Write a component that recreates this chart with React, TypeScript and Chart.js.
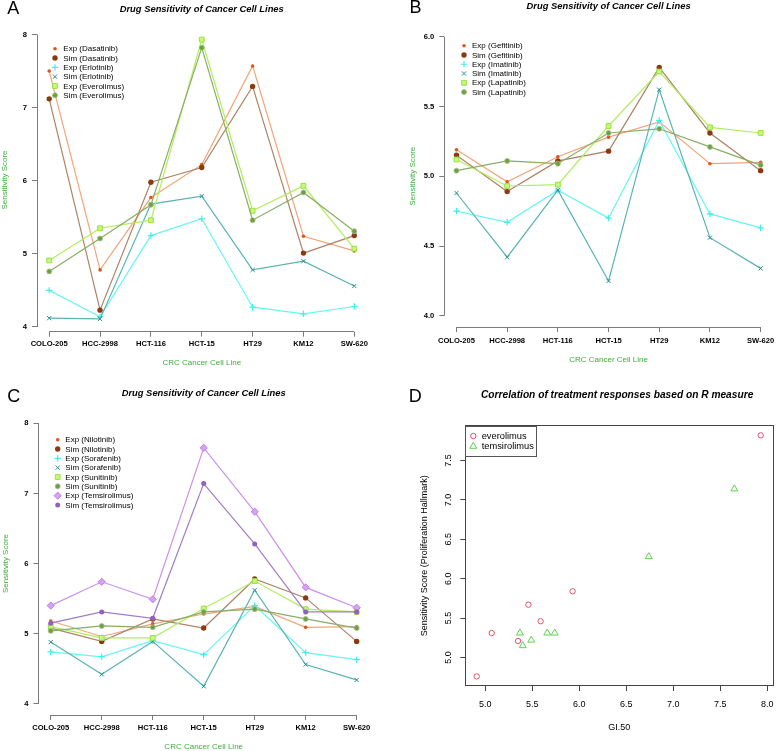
import React, { useEffect, useRef } from 'react';
import { Chart, registerables } from 'chart.js';

Chart.register(...registerables);

// ---------------- DATA ----------------
const cellLines = ['COLO-205', 'HCC-2998', 'HCT-116', 'HCT-15', 'HT29', 'KM12', 'SW-620'];
const cellPositions = [1, 2, 3, 4, 5, 6, 7];

// Panel A
const expDasatinib = [7.5, 4.78, 5.77, 6.22, 7.57, 5.24, 5.04];
const simDasatinib = [7.12, 4.23, 5.98, 6.18, 7.29, 5.01, 5.25];
const expErlotinib = [4.5, 4.14, 5.25, 5.48, 4.27, 4.18, 4.28];
const simErlotinib = [4.12, 4.11, 5.68, 5.79, 4.78, 4.9, 4.56];
const expEverolimus = [4.91, 5.35, 5.46, 7.93, 5.59, 5.93, 5.07];
const simEverolimus = [4.76, 5.21, 5.67, 7.82, 5.46, 5.84, 5.31];

// Panel B
const expGefitinib = [5.19, 4.96, 5.14, 5.28, 5.39, 5.09, 5.1];
const simGefitinib = [5.15, 4.89, 5.11, 5.18, 5.78, 5.31, 5.04];
const expImatinib = [4.75, 4.67, 4.9, 4.7, 5.4, 4.73, 4.63];
const simImatinib = [4.88, 4.42, 4.9, 4.25, 5.62, 4.56, 4.34];
const expLapatinib = [5.12, 4.93, 4.94, 5.36, 5.75, 5.35, 5.31];
const simLapatinib = [5.04, 5.11, 5.09, 5.31, 5.34, 5.21, 5.08];

// Panel C
const expNilotinib = [5.18, 4.96, 5.14, 5.28, 5.39, 5.09, 5.1];
const simNilotinib = [5.08, 4.89, 5.21, 5.08, 5.78, 5.51, 4.89];
const expSorafenib = [4.74, 4.67, 4.9, 4.7, 5.4, 4.73, 4.63];
const simSorafenib = [4.88, 4.42, 4.89, 4.25, 5.62, 4.56, 4.34];
const expSunitinib = [5.1, 4.94, 4.94, 5.36, 5.75, 5.35, 5.31];
const simSunitinib = [5.04, 5.11, 5.09, 5.31, 5.35, 5.21, 5.08];
const expTemsirolimus = [5.4, 5.74, 5.49, 7.65, 6.74, 5.66, 5.37];
const simTemsirolimus = [5.15, 5.31, 5.22, 7.14, 6.28, 5.31, 5.31];

// Tick values
const yTicksA = [4, 5, 6, 7, 8];
const yTicksB = [4.0, 4.5, 5.0, 5.5, 6.0];
const yTicksC = [4, 5, 6, 7, 8];
const xTicksD = [5.0, 5.5, 6.0, 6.5, 7.0, 7.5, 8.0];
const yTicksD = [5.0, 5.5, 6.0, 6.5, 7.0, 7.5];

// ---------------- STYLES ----------------
const FONT = "'Liberation Sans', Arial, Helvetica, sans-serif";
const AXIS = '#7a7a7a';
const GREEN = '#3CAE3C';

type Kind = { line: string; shape: string; r: number; fill: string; stroke: string; bw: number };
const kinds: Kind[] = [
  { line: '#F0A57A', shape: 'circle', r: 1.8, fill: '#E2531A', stroke: '#E2531A', bw: 0 },
  { line: '#AD8366', shape: 'circle', r: 2.7, fill: '#8B3A10', stroke: '#8B3A10', bw: 0 },
  { line: '#66F6F6', shape: 'cross', r: 3.2, fill: '#3EEFEF', stroke: '#3EEFEF', bw: 1.2 },
  { line: '#5AB3B3', shape: 'crossRot', r: 3, fill: '#2A9090', stroke: '#2A9090', bw: 1 },
  { line: '#B0EE5C', shape: 'rect', r: 3.4, fill: '#C6F77E', stroke: '#9BE23E', bw: 1 },
  { line: '#88AD66', shape: 'circle', r: 2.5, fill: '#6E9E48', stroke: '#A4C484', bw: 0.8 },
  { line: '#CB90EB', shape: 'rectRot', r: 3.6, fill: '#D7A2F4', stroke: '#BF7DE5', bw: 1 },
  { line: '#A07CC6', shape: 'circle', r: 2.5, fill: '#9462BE', stroke: '#9462BE', bw: 0 },
];

type Series = { label: string; values: number[]; kind: number };

const seriesA: Series[] = [
  { label: 'Exp (Dasatinib)', values: expDasatinib, kind: 0 },
  { label: 'Sim (Dasatinib)', values: simDasatinib, kind: 1 },
  { label: 'Exp (Erlotinib)', values: expErlotinib, kind: 2 },
  { label: 'Sim (Erlotinib)', values: simErlotinib, kind: 3 },
  { label: 'Exp (Everolimus)', values: expEverolimus, kind: 4 },
  { label: 'Sim (Everolimus)', values: simEverolimus, kind: 5 },
];
const seriesB: Series[] = [
  { label: 'Exp (Gefitinib)', values: expGefitinib, kind: 0 },
  { label: 'Sim (Gefitinib)', values: simGefitinib, kind: 1 },
  { label: 'Exp (Imatinib)', values: expImatinib, kind: 2 },
  { label: 'Sim (Imatinib)', values: simImatinib, kind: 3 },
  { label: 'Exp (Lapatinib)', values: expLapatinib, kind: 4 },
  { label: 'Sim (Lapatinib)', values: simLapatinib, kind: 5 },
];
const seriesC: Series[] = [
  { label: 'Exp (Nilotinib)', values: expNilotinib, kind: 0 },
  { label: 'Sim (Nilotinib)', values: simNilotinib, kind: 1 },
  { label: 'Exp (Sorafenib)', values: expSorafenib, kind: 2 },
  { label: 'Sim (Sorafenib)', values: simSorafenib, kind: 3 },
  { label: 'Exp (Sunitinib)', values: expSunitinib, kind: 4 },
  { label: 'Sim (Sunitinib)', values: simSunitinib, kind: 5 },
  { label: 'Exp (Temsirolimus)', values: expTemsirolimus, kind: 6 },
  { label: 'Sim (Temsirolimus)', values: simTemsirolimus, kind: 7 },
];

// ---------------- HELPERS ----------------
function drawMarker(ctx: CanvasRenderingContext2D, shape: string, x: number, y: number, r: number, fill: string, stroke: string, bw: number) {
  ctx.save();
  ctx.fillStyle = fill;
  ctx.strokeStyle = stroke;
  ctx.lineWidth = bw;
  ctx.beginPath();
  if (shape === 'circle') {
    ctx.arc(x, y, r, 0, Math.PI * 2);
    ctx.fill();
    if (bw > 0) ctx.stroke();
  } else if (shape === 'cross') {
    ctx.moveTo(x - r, y); ctx.lineTo(x + r, y);
    ctx.moveTo(x, y - r); ctx.lineTo(x, y + r);
    ctx.stroke();
  } else if (shape === 'crossRot') {
    const d = r * Math.SQRT1_2;
    ctx.moveTo(x - d, y - d); ctx.lineTo(x + d, y + d);
    ctx.moveTo(x - d, y + d); ctx.lineTo(x + d, y - d);
    ctx.stroke();
  } else if (shape === 'rect') {
    const s = r * Math.SQRT1_2;
    ctx.rect(x - s, y - s, 2 * s, 2 * s);
    ctx.fill();
    if (bw > 0) ctx.stroke();
  } else if (shape === 'rectRot') {
    ctx.moveTo(x, y - r); ctx.lineTo(x + r, y); ctx.lineTo(x, y + r); ctx.lineTo(x - r, y); ctx.closePath();
    ctx.fill();
    if (bw > 0) ctx.stroke();
  } else if (shape === 'triangle') {
    for (let k = 0; k < 3; k++) {
      const a = (k * 2 * Math.PI) / 3;
      const px = x + Math.sin(a) * r, py = y - Math.cos(a) * r;
      if (k === 0) ctx.moveTo(px, py); else ctx.lineTo(px, py);
    }
    ctx.closePath();
    ctx.stroke();
  }
  ctx.restore();
}

function alignPx(v: number) {
  return Math.round(v - 0.5) + 0.5;
}

type LineSpec = {
  W: number; H: number;
  area: { l: number; r: number; t: number; b: number };
  yMin: number; yMax: number; yTicks: number[]; yDec: number;
  series: Series[];
  letter: string; letterX: number; letterY: number;
  titleY: number; xPad: number; xTitleY: number; yTitleX: number;
  legend: { mx: number; tx: number; y0: number; dy: number };
};

function makeLineConfig(s: LineSpec): any {
  const first = cellPositions[0];
  const last = cellPositions[cellPositions.length - 1];
  const xMin = first - 0.04 * (last - first);
  const xMax = last + 0.04 * (last - first);
  const datasets = s.series.map((se, i) => {
    const k = kinds[se.kind];
    return {
      label: se.label,
      data: se.values.map((v, j) => ({ x: cellPositions[j], y: v })),
      borderColor: k.line,
      backgroundColor: k.fill,
      borderWidth: 1.2,
      tension: 0,
      pointStyle: k.shape,
      pointRadius: k.r,
      pointBackgroundColor: k.fill,
      pointBorderColor: k.stroke,
      pointBorderWidth: k.bw,
      order: -i,
      clip: false,
    };
  });
  const deco = {
    id: 'rdeco',
    afterDraw(chart: any) {
      const ctx: CanvasRenderingContext2D = chart.ctx;
      const ca = chart.chartArea;
      const xs = chart.scales.x, ys = chart.scales.y;
      ctx.save();
      // R-style axis lines spanning ticks only
      ctx.strokeStyle = AXIS;
      ctx.lineWidth = 1;
      ctx.beginPath();
      const yb = alignPx(ca.bottom);
      ctx.moveTo(xs.getPixelForValue(first), yb);
      ctx.lineTo(xs.getPixelForValue(last), yb);
      const xl = alignPx(ca.left);
      ctx.moveTo(xl, ys.getPixelForValue(s.yTicks[0]));
      ctx.lineTo(xl, ys.getPixelForValue(s.yTicks[s.yTicks.length - 1]));
      ctx.stroke();
      // panel letter
      ctx.fillStyle = '#000';
      ctx.textAlign = 'center';
      ctx.textBaseline = 'middle';
      ctx.font = `18px ${FONT}`;
      ctx.fillText(s.letter, s.letterX, s.letterY);
      // title
      ctx.font = `italic bold 9.4px ${FONT}`;
      ctx.fillText('Drug Sensitivity of Cancer Cell Lines', (ca.left + ca.right) / 2, s.titleY);
      // axis titles
      ctx.fillStyle = GREEN;
      ctx.font = `8px ${FONT}`;
      ctx.fillText('CRC Cancer Cell Line', (ca.left + ca.right) / 2, s.xTitleY);
      ctx.save();
      ctx.translate(s.yTitleX, (ca.top + ca.bottom) / 2);
      ctx.rotate(-Math.PI / 2);
      ctx.fillText('Sensitivity Score', 0, 0);
      ctx.restore();
      // legend
      ctx.font = `8px ${FONT}`;
      ctx.textAlign = 'left';
      ctx.fillStyle = '#000';
      s.series.forEach((se, i) => {
        const k = kinds[se.kind];
        const y = s.legend.y0 + i * s.legend.dy;
        drawMarker(ctx, k.shape, s.legend.mx, y, k.r, k.fill, k.stroke, k.bw);
        ctx.fillStyle = '#000';
        ctx.fillText(se.label, s.legend.tx, y + 0.5);
      });
      ctx.restore();
    },
  };
  return {
    type: 'line',
    data: { datasets },
    options: {
      responsive: false,
      animation: false,
      events: [],
      layout: { padding: { left: 0, top: s.area.t, right: s.W - s.area.r, bottom: 0 } },
      plugins: { legend: { display: false }, tooltip: { enabled: false }, title: { display: false } },
      scales: {
        x: {
          type: 'linear',
          min: xMin,
          max: xMax,
          afterBuildTicks: (sc: any) => { sc.ticks = cellPositions.map((v) => ({ value: v })); },
          afterFit: (sc: any) => { sc.height = s.H - s.area.b; sc.paddingLeft = 0; sc.paddingRight = 0; },
          ticks: {
            callback: (v: any) => cellLines[Math.round(Number(v)) - 1],
            font: { family: FONT, size: 7.6, weight: 'bold' },
            color: '#000',
            padding: s.xPad,
            maxRotation: 0,
            minRotation: 0,
            autoSkip: false,
          },
          grid: { drawOnChartArea: false, drawTicks: true, tickLength: 5, color: AXIS, lineWidth: 1 },
          border: { display: false },
        },
        y: {
          type: 'linear',
          min: s.yMin,
          max: s.yMax,
          afterBuildTicks: (sc: any) => { sc.ticks = s.yTicks.map((v) => ({ value: v })); },
          afterFit: (sc: any) => { sc.width = s.area.l; sc.paddingTop = 0; sc.paddingBottom = 0; },
          ticks: {
            callback: (v: any) => Number(v).toFixed(s.yDec),
            font: { family: FONT, size: 7.6, weight: 'bold' },
            color: '#000',
            padding: 5,
          },
          grid: { drawOnChartArea: false, drawTicks: true, tickLength: 5, color: AXIS, lineWidth: 1 },
          border: { display: false },
        },
      },
    },
    plugins: [deco],
  };
}

const specA: LineSpec = {
  W: 389, H: 372,
  area: { l: 37, r: 366.5, t: 28.3, b: 331.7 },
  yMin: 3.935, yMax: 8.085, yTicks: yTicksA, yDec: 0,
  series: seriesA,
  letter: 'A', letterX: 13.3, letterY: 9.5,
  titleY: 9, xPad: 3, xTitleY: 362.7, yTitleX: 4.5,
  legend: { mx: 55, tx: 63.3, y0: 48.7, dy: 9.33 },
};
const specB: LineSpec = {
  W: 389, H: 372,
  area: { l: 55.3, r: 386.4, t: 25.5, b: 327 },
  yMin: 3.92, yMax: 6.08, yTicks: yTicksB, yDec: 1,
  series: seriesB,
  letter: 'B', letterX: 26.5, letterY: 8.5,
  titleY: 6.7, xPad: 4.5, xTitleY: 360, yTitleX: 23.3,
  legend: { mx: 75, tx: 83, y0: 45.7, dy: 9.27 },
};
const specC: LineSpec = {
  W: 389, H: 379,
  area: { l: 38.5, r: 368.9, t: 40.1, b: 343 },
  yMin: 3.84, yMax: 8.16, yTicks: yTicksC, yDec: 0,
  series: seriesC,
  letter: 'C', letterX: 13.7, letterY: 24.7,
  titleY: 21.3, xPad: 3.2, xTitleY: 374.3, yTitleX: 6,
  legend: { mx: 57.7, tx: 65.3, y0: 67.7, dy: 9.33 },
};

function makeScatterConfig(): any {
  const W = 389, H = 379;
  const area = { l: 76.3, r: 387, t: 53.7, b: 314 };
  const red = '#DF536B', green = '#61D04F';
  const groups = [
    { label: 'everolimus', xs: expEverolimus, ys: simEverolimus, shape: 'circle', r: 2.7, color: red },
    { label: 'temsirolimus', xs: expTemsirolimus, ys: simTemsirolimus, shape: 'triangle', r: 4, color: green },
  ];
  const datasets = groups.map((g) => ({
    label: g.label,
    data: g.xs.map((v, i) => ({ x: v, y: g.ys[i] })),
    pointStyle: g.shape,
    pointRadius: g.r,
    pointBorderColor: g.color,
    borderColor: g.color,
    pointBackgroundColor: 'rgba(0,0,0,0)',
    backgroundColor: 'rgba(0,0,0,0)',
    pointBorderWidth: 1,
    clip: false,
  }));
  const deco = {
    id: 'rdecoD',
    afterDraw(chart: any) {
      const ctx: CanvasRenderingContext2D = chart.ctx;
      const ca = chart.chartArea;
      const ys = chart.scales.y;
      ctx.save();
      ctx.strokeStyle = '#444';
      ctx.lineWidth = 1;
      ctx.strokeRect(alignPx(ca.left), alignPx(ca.top), Math.round(ca.right - ca.left), Math.round(ca.bottom - ca.top));
      // rotated y tick labels
      ctx.fillStyle = '#000';
      ctx.font = `9px ${FONT}`;
      ctx.textAlign = 'center';
      ctx.textBaseline = 'middle';
      yTicksD.forEach((v) => {
        ctx.save();
        ctx.translate(59.3, ys.getPixelForValue(v));
        ctx.rotate(-Math.PI / 2);
        ctx.fillText(v.toFixed(1), 0, 0);
        ctx.restore();
      });
      // axis titles
      ctx.fillText('GI.50', (ca.left + ca.right) / 2, 355.7);
      ctx.save();
      ctx.translate(36, (ca.top + ca.bottom) / 2);
      ctx.rotate(-Math.PI / 2);
      ctx.fillText('Sensitivity Score (Proliferation Hallmark)', 0, 0);
      ctx.restore();
      // letter & title
      ctx.font = `18px ${FONT}`;
      ctx.fillText('D', 26.3, 25.5);
      ctx.font = `italic bold 10.2px ${FONT}`;
      ctx.fillText('Correlation of treatment responses based on R measure', (ca.left + ca.right) / 2 - 2, 23);
      // legend box
      const lx = alignPx(ca.left), ly = alignPx(ca.top) + 1;
      ctx.strokeStyle = '#555';
      ctx.strokeRect(lx, ly, 71, 30);
      ctx.font = `9.3px ${FONT}`;
      ctx.textAlign = 'left';
      groups.forEach((g, i) => {
        const y = ca.top + 10.3 + i * 10.3;
        drawMarker(ctx, g.shape, ca.left + 8, y, g.r, 'rgba(0,0,0,0)', g.color, 1);
        ctx.fillStyle = '#000';
        ctx.fillText(g.label, ca.left + 16.4, y + 0.5);
      });
      ctx.restore();
    },
  };
  return {
    type: 'scatter',
    data: { datasets },
    options: {
      responsive: false,
      animation: false,
      events: [],
      layout: { padding: { left: 0, top: area.t, right: W - area.r, bottom: 0 } },
      plugins: { legend: { display: false }, tooltip: { enabled: false }, title: { display: false } },
      scales: {
        x: {
          type: 'linear',
          min: 4.789,
          max: 8.061,
          afterBuildTicks: (sc: any) => { sc.ticks = xTicksD.map((v) => ({ value: v })); },
          afterFit: (sc: any) => { sc.height = H - area.b; sc.paddingLeft = 0; sc.paddingRight = 0; },
          ticks: {
            callback: (v: any) => Number(v).toFixed(1),
            font: { family: FONT, size: 9 },
            color: '#000',
            padding: 8,
            maxRotation: 0,
            minRotation: 0,
            autoSkip: false,
          },
          grid: { drawOnChartArea: false, drawTicks: true, tickLength: 5, color: '#444', lineWidth: 1 },
          border: { display: false },
        },
        y: {
          type: 'linear',
          min: 4.638,
          max: 7.942,
          afterBuildTicks: (sc: any) => { sc.ticks = yTicksD.map((v) => ({ value: v })); },
          afterFit: (sc: any) => { sc.width = area.l; sc.paddingTop = 0; sc.paddingBottom = 0; },
          ticks: { display: false },
          grid: { drawOnChartArea: false, drawTicks: true, tickLength: 5, color: '#444', lineWidth: 1 },
          border: { display: false },
        },
      },
    },
    plugins: [deco],
  };
}

function ChartCanvas(props: { left: number; top: number; width: number; height: number; make: () => any }) {
  const ref = useRef<HTMLCanvasElement>(null);
  useEffect(() => {
    const chart = new Chart(ref.current as HTMLCanvasElement, props.make());
    return () => chart.destroy();
  }, []);
  return (
    <canvas
      ref={ref}
      width={props.width}
      height={props.height}
      style={{ position: 'absolute', left: props.left, top: props.top, width: props.width, height: props.height }}
    />
  );
}

export default function App() {
  return (
    <div style={{ position: 'absolute', left: 0, top: 0, width: 778, height: 751, background: '#fff', overflow: 'hidden' }}>
      <ChartCanvas left={0} top={0} width={389} height={372} make={() => makeLineConfig(specA)} />
      <ChartCanvas left={389} top={0} width={389} height={372} make={() => makeLineConfig(specB)} />
      <ChartCanvas left={0} top={372} width={389} height={379} make={() => makeLineConfig(specC)} />
      <ChartCanvas left={389} top={372} width={389} height={379} make={() => makeScatterConfig()} />
    </div>
  );
}
